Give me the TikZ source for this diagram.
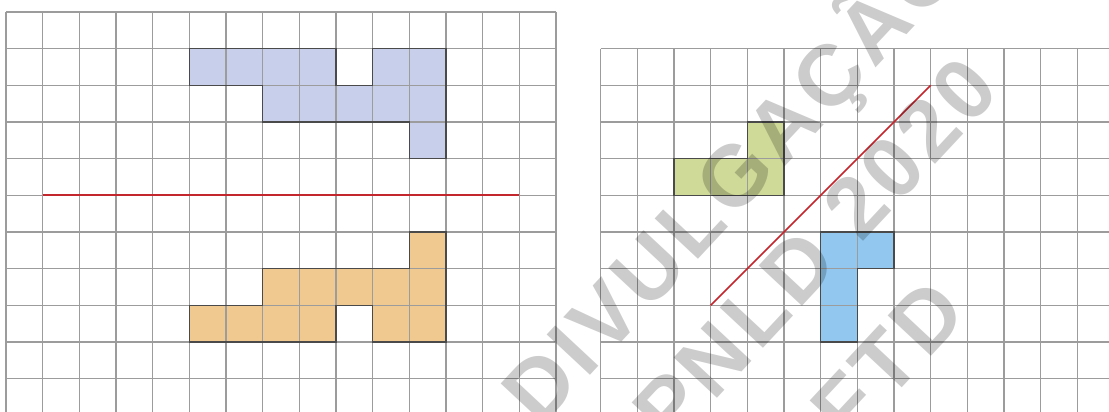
\documentclass[tikz,border=0pt]{standalone}
\usepackage{fontspec}
\newfontfamily\wmfont{Liberation Sans}[LetterSpace=6]
\definecolor{gridgray}{HTML}{9C9C9C}
\definecolor{edgegray}{HTML}{4A4A4A}
\definecolor{lineRed}{HTML}{C4262E}
\definecolor{lavender}{HTML}{C8CFEA}
\definecolor{apricot}{HTML}{EFC98F}
\definecolor{olivegreen}{HTML}{CFDA98}
\definecolor{skyblue}{HTML}{92C8F0}
\tikzset{
  gridline/.style={draw=gridgray, line width=1.1pt},
  figure/.style={draw=edgegray, line width=1.4pt, line join=miter},
  axis/.style={draw=lineRed, line width=1.7pt},
  watermark/.style={text=black, text opacity=0.2, rotate=47, inner sep=0pt,
    font=\wmfont\bfseries\fontsize{86}{86}\selectfont}
}
\begin{document}
\begin{tikzpicture}[x=1pt,y=-1pt]
\useasboundingbox (0,0) rectangle (1109,412);
% left grid
\begin{scope}[shift={(6,12)}, x=36.667pt, y=-36.667pt]
  \fill[lavender] (5,1)--(9,1)--(9,2)--(10,2)--(10,1)--(12,1)--(12,4)--(11,4)--(11,3)--(7,3)--(7,2)--(5,2)--cycle;
  \fill[apricot] (5,9)--(9,9)--(9,8)--(10,8)--(10,9)--(12,9)--(12,6)--(11,6)--(11,7)--(7,7)--(7,8)--(5,8)--cycle;
  \foreach \i in {0,...,15} \draw[gridline] (\i,0)--(\i,10.92);
  \foreach \k in {0,...,10} \draw[gridline] (0,\k)--(15,\k);
  \draw[figure] (5,1)--(9,1)--(9,2)--(10,2)--(10,1)--(12,1)--(12,4)--(11,4)--(11,3)--(7,3)--(7,2)--(5,2)--cycle;
  \draw[figure] (5,9)--(9,9)--(9,8)--(10,8)--(10,9)--(12,9)--(12,6)--(11,6)--(11,7)--(7,7)--(7,8)--(5,8)--cycle;
  \coordinate (axisA1) at (1,5);
  \coordinate (axisA2) at (14,5);
  \draw[axis] (axisA1)--(axisA2);
\end{scope}
% right grid
\begin{scope}[shift={(600.7,12)}, x=36.667pt, y=-36.667pt]
  \fill[olivegreen] (4,3)--(5,3)--(5,5)--(2,5)--(2,4)--(4,4)--cycle;
  \fill[skyblue] (6,6)--(8,6)--(8,7)--(7,7)--(7,9)--(6,9)--cycle;
  \foreach \j in {0,...,13} \draw[gridline] (\j,1)--(\j,10.92);
  \foreach \k in {1,...,10} \draw[gridline] (0,\k)--(13.9,\k);
  \draw[figure] (4,3)--(5,3)--(5,5)--(2,5)--(2,4)--(4,4)--cycle;
  \draw[figure] (6,6)--(8,6)--(8,7)--(7,7)--(7,9)--(6,9)--cycle;
  \coordinate (axisB1) at (3,8);
  \coordinate (axisB2) at (9,2);
  \draw[axis] (axisB1)--(axisB2);
\end{scope}
% watermark
\node[watermark] (wm1) at (732,180) {DIVULGAÇÃO};
\node[watermark] (wm2) at (815,250) {PNLD 2020};
\node[watermark] (wm3) at (888,360) {FTD};
\end{tikzpicture}
\end{document}
